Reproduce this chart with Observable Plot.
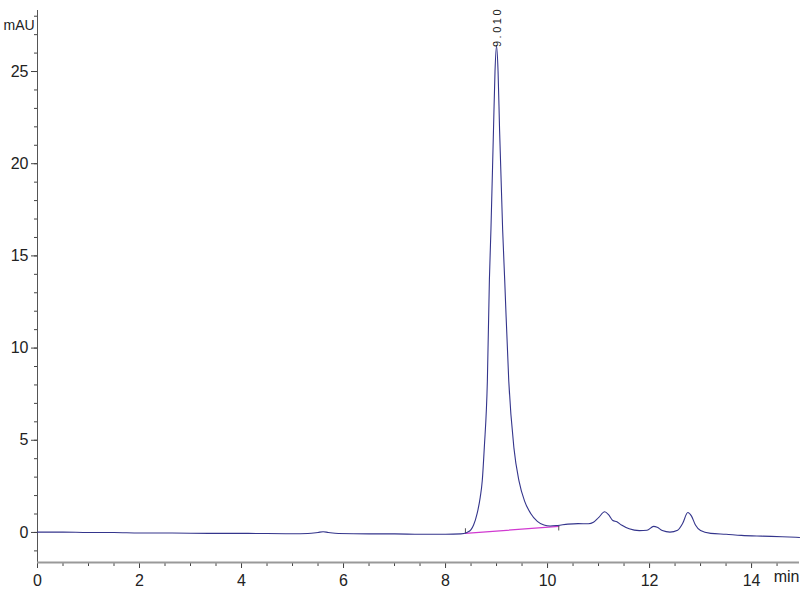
<!DOCTYPE html>
<html>
<head>
<meta charset="utf-8">
<script src="https://cdn.jsdelivr.net/npm/d3@7"></script>
<script src="https://cdn.jsdelivr.net/npm/@observablehq/plot@0.6"></script>
<style>
  html, body { margin: 0; padding: 0; background: #fff; }
  #chart { width: 800px; height: 600px; }
  .peak-label text { letter-spacing: 2.5px; }
</style>
</head>
<body>
<div id="chart"></div>
<script>
// Retention time (min) and absorbance (mAU)
const time = [0, 0.5, 1.0, 1.5, 2.0, 2.5, 3.0, 3.5, 4.0, 4.5, 5.0, 5.3, 5.5, 5.6, 5.7, 5.9, 6.5, 7.0, 7.5, 8.0, 8.3,
  8.42, 8.5, 8.55, 8.62, 8.68, 8.72, 8.76, 8.82, 8.86, 8.89, 8.94, 8.97, 9.0, 9.03, 9.06, 9.12, 9.16, 9.24, 9.34, 9.44,
  9.55, 9.67, 9.8, 9.93, 10.05, 10.2, 10.4, 10.6, 10.8, 10.9, 11.0, 11.12, 11.2, 11.28, 11.36, 11.45, 11.6, 11.8, 11.95,
  12.08, 12.15, 12.25, 12.4, 12.55, 12.65, 12.75, 12.82, 12.9, 13.0, 13.2, 13.5, 13.8, 14.2, 14.6, 14.94];
const signal = [0.02, 0.02, 0.0, 0.0, -0.03, -0.03, -0.04, -0.05, -0.05, -0.06, -0.07, -0.06, 0.0, 0.04, 0.0, -0.06, -0.08, -0.08, -0.1, -0.1, -0.08,
  0.0, 0.15, 0.4, 1.03, 1.9, 2.8, 4.6, 8.2, 13.7, 16.4, 21.8, 25.0, 26.4, 25.0, 21.8, 16.4, 13.7, 8.2, 4.6, 2.8,
  1.7, 1.03, 0.6, 0.4, 0.35, 0.38, 0.45, 0.48, 0.47, 0.55, 0.8, 1.12, 0.95, 0.65, 0.58, 0.4, 0.2, 0.1, 0.12,
  0.33, 0.28, 0.1, 0.02, 0.12, 0.5, 1.08, 0.9, 0.4, 0.1, -0.05, -0.1, -0.16, -0.2, -0.23, -0.27];

// Integration baseline of the main peak
const baseTime = [8.39, 10.22];
const baseValue = [-0.05, 0.33];

// Peak annotation
const peakTime = 9.01;
const peakHeight = 26.33;
const peakLabel = "9.010";

// Axis ticks
const yMajor = [0, 5, 10, 15, 20, 25];
const yMinor = d3.range(-1, 29, 1);
const xMajor = [0, 2, 4, 6, 8, 10, 12, 14];
const xMinor = d3.range(0, 15, 0.5);

const xDomain = [0, 14.94];
const yDomain = [-1.63, 28.31];

const trace = time.map((t, i) => ({t, v: signal[i]}));
const base = baseTime.map((t, i) => ({t, v: baseValue[i]}));

const narrow = "'Liberation Sans Narrow', 'Arial Narrow', 'Liberation Sans', Arial, sans-serif";

const chart = Plot.plot({
  width: 800,
  height: 600,
  marginLeft: 37,
  marginRight: 1,
  marginTop: 10,
  marginBottom: 38,
  style: {fontFamily: narrow, fontSize: "16px", color: "#222", background: "#fff"},
  x: {domain: xDomain},
  y: {domain: yDomain},
  marks: [
    // minor ticks
    Plot.axisY({ticks: yMinor, tickSize: 3, text: null, label: null, stroke: "#444"}),
    Plot.axisX({ticks: xMinor, tickSize: 4, text: null, label: null, stroke: "#444"}),
    // major ticks + labels
    Plot.axisY({ticks: yMajor, tickSize: 6, tickPadding: 3, label: null, stroke: "#444", fontSize: 16}),
    Plot.axisX({ticks: xMajor, tickSize: 6, tickPadding: 6, label: null, stroke: "#444", fontSize: 16}),
    // axis lines
    Plot.ruleX([0], {stroke: "#555", strokeWidth: 1}),
    Plot.ruleY([yDomain[0]], {stroke: "#999", strokeWidth: 2}),
    // integration baseline
    Plot.line(base, {x: "t", y: "v", stroke: "#d13ad1", strokeWidth: 1.2}),
    Plot.ruleX([base[0]], {x: "t", y1: d => d.v - 0.02, y2: d => d.v + 0.25, stroke: "#555", strokeWidth: 1}),
    Plot.ruleX([base[1]], {x: "t", y1: d => d.v - 0.25, y2: d => d.v + 0.02, stroke: "#555", strokeWidth: 1}),
    // chromatogram trace
    Plot.line(trace, {x: "t", y: "v", stroke: "#34358c", strokeWidth: 1.1, curve: "monotone-x"}),
    // peak label
    Plot.text([peakLabel], {x: peakTime, y: peakHeight, text: d => d, rotate: -90, textAnchor: "start",
      lineAnchor: "middle", fontSize: 11, fontFamily: "'Liberation Sans', Arial, sans-serif", fill: "#222",
      className: "peak-label"}),
    // axis titles
    Plot.text(["mAU"], {frameAnchor: "top-left", dx: -34, dy: 10, textAnchor: "start", fontSize: 14, fill: "#222"}),
    Plot.text(["min"], {frameAnchor: "bottom-right", dx: 0, dy: 19, textAnchor: "end", fontSize: 16, fill: "#222"})
  ]
});

document.getElementById("chart").appendChild(chart);
</script>
</body>
</html>
